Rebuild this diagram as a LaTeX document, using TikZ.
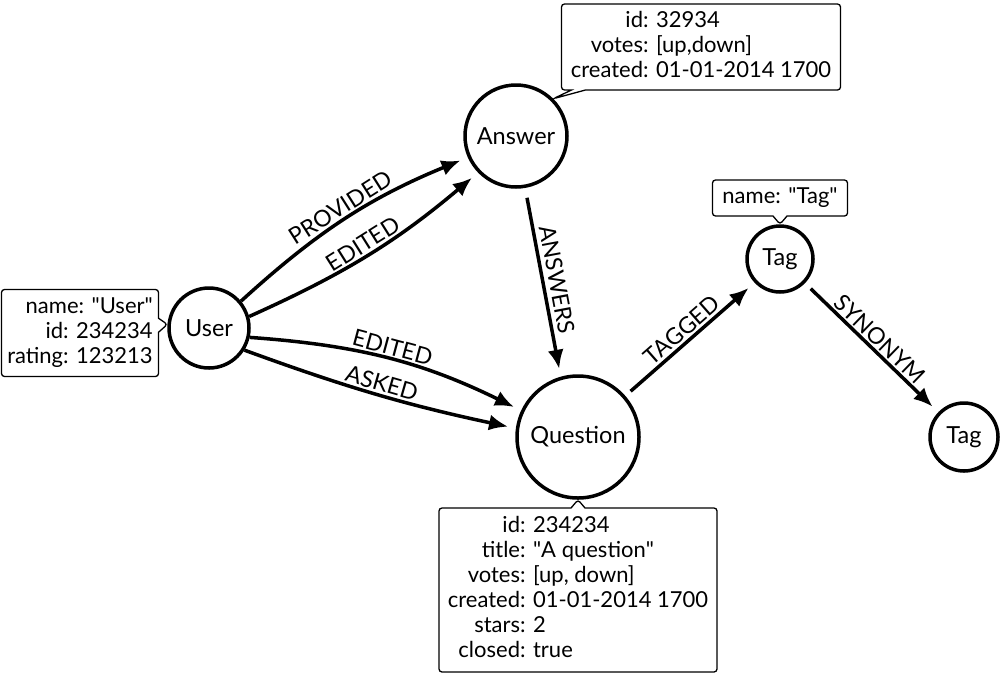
\documentclass[tikz,border=0pt]{standalone}
\usepackage{fontspec}
\setmainfont{Lato}
\usetikzlibrary{shapes.callouts,arrows.meta}

\tikzset{
  entity/.style={circle, draw, line width=3.5pt, inner sep=0pt, font=\fontsize{23.5}{26}\selectfont},
  props/.style={rectangle callout, draw, line width=1.3pt, rounded corners=3pt,
    fill=white, inner sep=2pt, callout pointer width=14pt},
  rel/.style={line width=3.5pt, -{Latex[length=19pt,width=16pt]}, shorten >=8pt},
  lbl/.style={sloped, above, inner sep=2pt, font=\fontsize{23}{26}\selectfont}
}
\newcommand{\qt}[1]{\textquotedbl#1\textquotedbl}

\begin{document}
\begin{tikzpicture}[x=1pt, y=-1pt, font=\fontsize{22}{25}\selectfont]
  \useasboundingbox (0,0) rectangle (1000,673);

  % Define nodes
  \node[entity, minimum size=80pt]  (User)     at (209,328) {User};
  \node[entity, minimum size=102pt] (Answer)   at (516,136) {Answer};
  \node[entity, minimum size=122pt] (Question) at (578,437) {Question};
  \node[entity, minimum size=66pt]  (Tag)      at (780,259) {Tag};
  \node[entity, minimum size=68pt]  (Syn)      at (964,437) {Tag};

  % Properties
  \node[props, minimum width=157pt, minimum height=87pt,
    callout absolute pointer={(User.175)}] (userprops) at (80,333)
    {\begin{tabular}{@{}r@{}}name: \qt{User}\\ id: 234234\\ rating: 123213\end{tabular}};
  \node[props, minimum width=279pt, minimum height=86pt,
    callout absolute pointer={(Answer.45)}] (answerprops) at (701,47)
    {\begin{tabular}{@{}r@{ }l@{}}id: & 32934\\ votes: & [up,down]\\ created: & 01-01-2014 1700\end{tabular}};
  \node[props, minimum width=135pt, minimum height=36pt,
    callout absolute pointer={(Tag.north)}] (tagprops) at (780,198) {name: \qt{Tag}};
  \node[props, minimum width=278pt, minimum height=164pt,
    callout absolute pointer={(Question.south)}] (questionprops) at (578,590)
    {\begin{tabular}{@{}r@{ }l@{}}id: & 234234\\ title: & \qt{A question}\\ votes: & [up, down]\\
      created: & 01-01-2014 1700\\ stars: & 2\\ closed: & true\end{tabular}};

  % Connect the nodes
  \draw[rel] (User.40) to[bend left=10] node[lbl] {PROVIDED} (Answer.204);
  \draw[rel] (User.16) to[bend right=8] node[lbl] {EDITED} (Answer.224);
  \draw[rel] (User.-13) to[bend left=11] node[lbl] {EDITED} (Question.155);
  \draw[rel] (User.-32) to[bend right=4] node[lbl] {ASKED} (Question.172);
  \draw[rel, shorten <=10pt] (Answer.-80) -- node[lbl, inner sep=4pt] {ANSWERS} (Question.106);
  \draw[rel, shorten <=7pt] (Question.41) -- node[lbl] {TAGGED} (Tag.223);
  \draw[rel, shorten <=8pt] (Tag.-44) -- node[lbl] {SYNONYM} (Syn.136);
\end{tikzpicture}
\end{document}
